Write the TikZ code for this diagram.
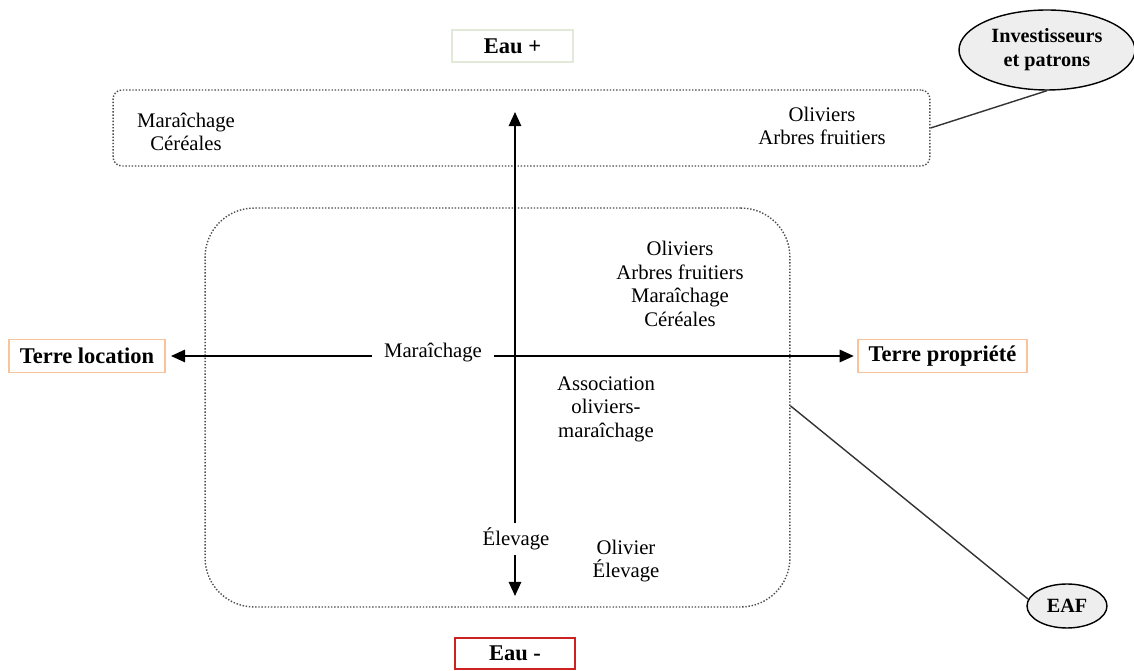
\documentclass[tikz,border=0pt]{standalone}
\usepackage{fontspec}
\setmainfont{Liberation Serif}
\usetikzlibrary{arrows.meta,shapes.geometric}
\definecolor{pale}{HTML}{E2E9D9}
\definecolor{peach}{HTML}{F8C39A}
\definecolor{darkred}{HTML}{CC2222}
\definecolor{ovalfill}{HTML}{EEEEEE}
\tikzset{
  txt/.style={align=center, font=\fontsize{11.8}{13.4}\selectfont},
  lbl/.style={draw, line width=0.8pt, inner sep=0pt, font=\bfseries\fontsize{12.8}{14}\selectfont},
  zone/.style={draw=gray!60!black, densely dotted, line width=0.8pt},
  oval/.style={draw, ellipse, fill=ovalfill, line width=0.8pt, align=center,
    font=\bfseries\fontsize{11.5}{13.6}\selectfont, inner sep=0pt},
  axis/.style={line width=1.1pt, -{Triangle[length=8pt,width=7pt]}},
  link/.style={line width=0.8pt, black!80}
}
\begin{document}
\begin{tikzpicture}[x=0.02cm, y=-0.02cm]
  \useasboundingbox (0,0) rectangle (1134,671);
  % zones
  \node[zone, rounded corners=5pt, minimum width=16.34cm, minimum height=1.52cm] (top) at (521.5,128) {};
  \node[zone, rounded corners=28pt, minimum width=11.7cm, minimum height=7.98cm] (big) at (497.5,407.5) {};
  % axes
  \coordinate (o) at (515,356);
  \coordinate (up) at (515,112);
  \coordinate (down) at (515,596);
  \node[lbl, draw=pale, minimum width=2.42cm, minimum height=0.64cm] (eauplus) at (512.5,46) {Eau +};
  \node[lbl, draw=darkred, minimum width=2.4cm, minimum height=0.62cm] (eaumoins) at (515,653.5) {Eau -};
  \node[lbl, draw=peach, minimum width=3.12cm, minimum height=0.66cm] (loc) at (87,356) {Terre location};
  \node[lbl, draw=peach, minimum width=3.38cm, minimum height=0.66cm] (prop) at (942.5,356) {Terre propriété};
  \draw[axis] (o) -- (up);
  \draw[axis] (o) -- (down);
  \draw[axis, shorten >=3pt] (o) -- (loc);
  \draw[axis, shorten >=2pt] (o) -- (prop);
  % texts
  \node[txt, fill=white, inner xsep=7pt, inner ysep=1pt] (mar) at (433,353) {Maraîchage};
  \node[txt, fill=white, inner xsep=2pt, inner ysep=3pt] (elev) at (516,539) {Élevage};
  \node[txt] (tl) at (186,132) {Maraîchage\\Céréales};
  \node[txt] (tr) at (822,126) {Oliviers\\Arbres fruitiers};
  \node[txt] (q1) at (680,284) {Oliviers\\Arbres fruitiers\\Maraîchage\\Céréales};
  \node[txt] (q2) at (606,409) {Association\\oliviers-\\maraîchage};
  \node[txt] (q3) at (626,561) {Olivier\\Élevage};
  % actors
  \node[oval, minimum width=3.52cm, minimum height=1.6cm] (inv) at (1047,50) {Investisseurs\\et patrons};
  \node[oval, minimum width=1.6cm, minimum height=0.88cm] (eaf) at (1067,606) {EAF};
  \draw[link] (inv.south) -- (top.east);
  \draw[link] (big.east |- 0,406) -- (eaf.170);
\end{tikzpicture}
\end{document}
